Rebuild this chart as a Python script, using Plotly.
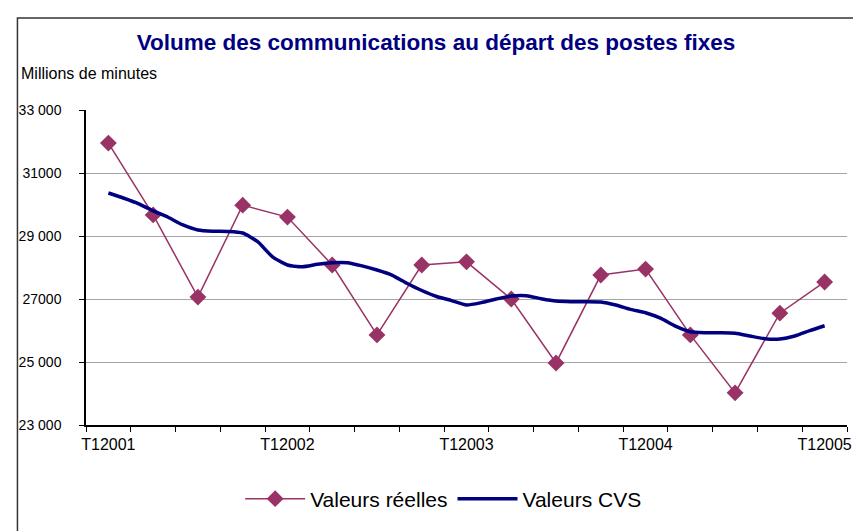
import plotly.graph_objects as go

# ---- data ----
quarters = ["T12001", "T22001", "T32001", "T42001",
            "T12002", "T22002", "T32002", "T42002",
            "T12003", "T22003", "T32003", "T42003",
            "T12004", "T22004", "T32004", "T42004",
            "T12005"]
valeurs_reelles = [31950, 29670, 27060, 29980,
                   29600, 28080, 25860, 28080,
                   28180, 27000, 24970, 27760,
                   27950, 25860, 24020, 26550,
                   27540]
# seasonally adjusted series, monthly resolution (49 points, Jan 2001 .. Jan 2005)
valeurs_cvs = [30365, 30206, 30030, 29800, 29594, 29350, 29190, 29150, 29145, 29095,
               28820, 28340, 28080, 28025, 28100, 28150, 28150, 28050, 27920, 27760,
               27500, 27270, 27080, 26950, 26810, 26885, 27000, 27095, 27105, 27010,
               26935, 26915, 26915, 26905, 26810, 26670, 26565, 26390, 26140, 25960,
               25930, 25930, 25915, 25825, 25740, 25730, 25825, 25995, 26150]
ytick_vals = [23000, 25000, 27000, 29000, 31000, 33000]
ytick_text = ["23 000", "25 000", "27000", "29 000", "31000", "33 000"]
xlabel_idx = [0, 4, 8, 12, 16]

x_q = list(range(len(quarters)))
x_m = [i / 3 for i in range(len(valeurs_cvs))]

fig = go.Figure()
fig.add_trace(go.Scatter(
    x=x_q, y=valeurs_reelles, name="Valeurs réelles", mode="lines+markers",
    line=dict(color="#993366", width=1.5),
    marker=dict(symbol="diamond", size=13, color="#993366"),
))
fig.add_trace(go.Scatter(
    x=x_m, y=valeurs_cvs, name="Valeurs CVS", mode="lines",
    line=dict(color="#000080", width=3.5, shape="spline", smoothing=0.6),
))

# the page body adds an 8px offset; the figure is sized to fill the rest of the window
OFF = 8
W, H = 861 - OFF, 531 - OFF
PL, PR, PT, PB = 86, 852, 110, 425          # plot area in window pixels
L, R, T, B = PL - OFF, 861 - PR, PT - OFF, 531 - PB
pw, ph = PR - PL, PB - PT

def px_x(x):
    return (x - PL) / pw

def px_y(y):
    return (PB - y) / ph

fig.update_layout(
    width=W, height=H,
    margin=dict(l=L, r=R, t=T, b=B),
    paper_bgcolor="white", plot_bgcolor="white",
    font=dict(family="Liberation Sans, Arial, sans-serif", color="black", size=13),
    title=dict(text="<b>Volume des communications au départ des postes fixes</b>",
               x=(436 - OFF) / W, xanchor="center", y=1 - (42 - OFF) / H, yanchor="middle",
               font=dict(size=22.5, color="#000080")),
    showlegend=True,
    legend=dict(orientation="h", x=px_x(446), xanchor="center", y=px_y(499), yanchor="middle",
                font=dict(size=21), itemwidth=60, bgcolor="rgba(0,0,0,0)"),
    xaxis=dict(
        range=[-0.5, len(quarters) - 0.5],
        tickmode="array", tickvals=xlabel_idx, ticktext=[quarters[i] for i in xlabel_idx],
        ticks="", showgrid=False, zeroline=False,
        showline=True, linecolor="black", linewidth=1.5,
        tickfont=dict(size=16), ticklabelstandoff=4,
        minor=dict(tickmode="array", tickvals=[i - 0.5 for i in range(len(quarters) + 1)],
                   ticks="outside", ticklen=5, tickcolor="black", tickwidth=1, showgrid=False),
        fixedrange=True,
    ),
    yaxis=dict(
        range=[23000, 33000],
        tickmode="array", tickvals=ytick_vals, ticktext=ytick_text,
        ticks="outside", ticklen=5, tickcolor="black",
        showgrid=True, gridcolor="#a6a6a6", gridwidth=1,
        zeroline=False, showline=True, linecolor="black", linewidth=1.5,
        tickfont=dict(size=14), ticklabelstandoff=15,
        fixedrange=True,
    ),
    shapes=[dict(type="rect", xref="paper", yref="paper",
                 x0=px_x(17), x1=px_x(870), y0=px_y(540), y1=px_y(18),
                 line=dict(color="#333333", width=1.5), fillcolor="rgba(0,0,0,0)", layer="below")],
    annotations=[dict(text="Millions de minutes", xref="paper", yref="paper",
                      x=px_x(19), xanchor="left", y=px_y(74), yanchor="middle",
                      showarrow=False, font=dict(size=16))],
)

fig.write_html("out.html")
